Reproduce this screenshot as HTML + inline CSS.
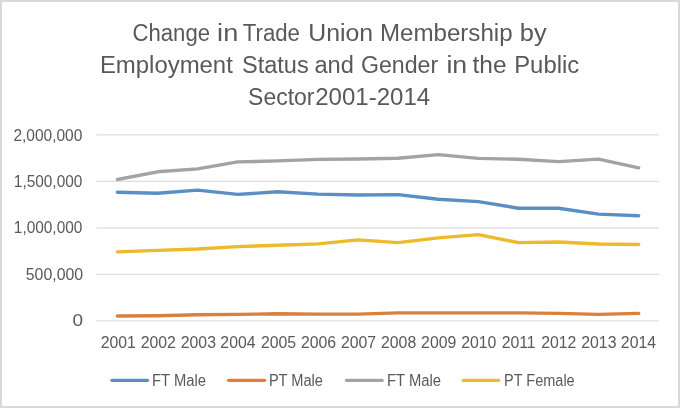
<!DOCTYPE html><html><head><meta charset="utf-8"><style>html,body{margin:0;padding:0;background:#fff;overflow:hidden;}svg{display:block;will-change:transform;}text{font-family:"Liberation Sans",sans-serif;}</style></head><body>
<svg width="680" height="408" viewBox="0 0 680 408">
<rect x="0" y="0" width="680" height="408" fill="#fff"/>
<rect x="1" y="1" width="678" height="406" fill="none" stroke="#D9D9D9" stroke-width="2"/>
<text x="132.54" y="40.5" font-size="23" fill="#595959" textLength="77.52" lengthAdjust="spacingAndGlyphs">Change</text>
<text x="217.14" y="40.5" font-size="23" fill="#595959" textLength="21.10" lengthAdjust="spacingAndGlyphs">in</text>
<text x="242.79" y="40.5" font-size="23" fill="#595959" textLength="57.16" lengthAdjust="spacingAndGlyphs">Trade</text>
<text x="308.34" y="40.5" font-size="23" fill="#595959" textLength="64.85" lengthAdjust="spacingAndGlyphs">Union</text>
<text x="379.90" y="40.5" font-size="23" fill="#595959" textLength="132.67" lengthAdjust="spacingAndGlyphs">Membership</text>
<text x="519.80" y="40.5" font-size="23" fill="#595959" textLength="26.78" lengthAdjust="spacingAndGlyphs">by</text>
<text x="99.92" y="72.6" font-size="23" fill="#595959" textLength="132.90" lengthAdjust="spacingAndGlyphs">Employment</text>
<text x="241.98" y="72.6" font-size="23" fill="#595959" textLength="66.77" lengthAdjust="spacingAndGlyphs">Status</text>
<text x="314.47" y="72.6" font-size="23" fill="#595959" textLength="39.44" lengthAdjust="spacingAndGlyphs">and</text>
<text x="360.99" y="72.6" font-size="23" fill="#595959" textLength="77.23" lengthAdjust="spacingAndGlyphs">Gender</text>
<text x="446.43" y="72.6" font-size="23" fill="#595959" textLength="20.78" lengthAdjust="spacingAndGlyphs">in</text>
<text x="472.50" y="72.6" font-size="23" fill="#595959" textLength="34.05" lengthAdjust="spacingAndGlyphs">the</text>
<text x="514.23" y="72.6" font-size="23" fill="#595959" textLength="64.95" lengthAdjust="spacingAndGlyphs">Public</text>
<text x="248.10" y="104.8" font-size="23" fill="#595959" textLength="66.38" lengthAdjust="spacingAndGlyphs">Sector</text>
<text x="315.26" y="104.8" font-size="23" fill="#595959" textLength="114.89" lengthAdjust="spacingAndGlyphs">2001-2014</text>
<line x1="96.5" y1="134.90" x2="659" y2="134.90" stroke="#DEDEDE" stroke-width="1.3"/>
<line x1="96.5" y1="181.38" x2="659" y2="181.38" stroke="#DEDEDE" stroke-width="1.3"/>
<line x1="96.5" y1="227.85" x2="659" y2="227.85" stroke="#DEDEDE" stroke-width="1.3"/>
<line x1="96.5" y1="274.33" x2="659" y2="274.33" stroke="#DEDEDE" stroke-width="1.3"/>
<line x1="96.5" y1="320.80" x2="659" y2="320.80" stroke="#DEDEDE" stroke-width="1.3"/>
<text x="13.42" y="140.50" font-size="15.8" fill="#595959" textLength="68.96" lengthAdjust="spacingAndGlyphs">2,000,000</text>
<text x="13.82" y="186.97" font-size="15.8" fill="#595959" textLength="68.55" lengthAdjust="spacingAndGlyphs">1,500,000</text>
<text x="13.82" y="233.45" font-size="15.8" fill="#595959" textLength="68.55" lengthAdjust="spacingAndGlyphs">1,000,000</text>
<text x="25.79" y="279.93" font-size="15.8" fill="#595959" textLength="57.42" lengthAdjust="spacingAndGlyphs">500,000</text>
<text x="72.40" y="326.40" font-size="15.8" fill="#595959" textLength="10.56" lengthAdjust="spacingAndGlyphs">0</text>
<text x="100.70" y="347.5" font-size="15.8" fill="#595959">2001</text>
<text x="140.75" y="347.5" font-size="15.8" fill="#595959">2002</text>
<text x="180.80" y="347.5" font-size="15.8" fill="#595959">2003</text>
<text x="220.35" y="347.5" font-size="15.8" fill="#595959">2004</text>
<text x="260.90" y="347.5" font-size="15.8" fill="#595959">2005</text>
<text x="300.95" y="347.5" font-size="15.8" fill="#595959">2006</text>
<text x="341.00" y="347.5" font-size="15.8" fill="#595959">2007</text>
<text x="381.05" y="347.5" font-size="15.8" fill="#595959">2008</text>
<text x="421.10" y="347.5" font-size="15.8" fill="#595959">2009</text>
<text x="461.15" y="347.5" font-size="15.8" fill="#595959">2010</text>
<text x="501.70" y="347.5" font-size="15.8" fill="#595959">2011</text>
<text x="541.25" y="347.5" font-size="15.8" fill="#595959">2012</text>
<text x="581.30" y="347.5" font-size="15.8" fill="#595959">2013</text>
<text x="620.85" y="347.5" font-size="15.8" fill="#595959">2014</text>
<polyline points="117.4,316.0 157.5,315.8 197.6,314.8 237.7,314.4 277.8,313.7 317.9,314.1 358.0,314.1 398.1,312.9 438.2,312.9 478.3,312.9 518.4,312.9 558.5,313.4 598.6,314.4 638.7,313.4" fill="none" stroke="#D9803F" stroke-width="3.4" stroke-linejoin="round" stroke-linecap="round"/>
<polyline points="117.4,251.9 157.5,250.4 197.6,249.0 237.7,246.6 277.8,245.2 317.9,243.9 358.0,239.9 398.1,242.6 438.2,237.9 478.3,234.6 518.4,242.6 558.5,242.0 598.6,244.0 638.7,244.5" fill="none" stroke="#EDBA2C" stroke-width="3.4" stroke-linejoin="round" stroke-linecap="round"/>
<polyline points="117.4,192.2 157.5,193.2 197.6,190.1 237.7,194.4 277.8,191.8 317.9,194.1 358.0,195.0 398.1,194.6 438.2,199.3 478.3,201.6 518.4,208.2 558.5,208.2 598.6,214.1 638.7,215.8" fill="none" stroke="#5A8FC6" stroke-width="3.4" stroke-linejoin="round" stroke-linecap="round"/>
<polyline points="117.4,179.5 157.5,171.8 197.6,168.9 237.7,161.9 277.8,160.9 317.9,159.4 358.0,159.0 398.1,158.2 438.2,154.6 478.3,158.4 518.4,159.3 558.5,161.6 598.6,159.1 638.7,167.8" fill="none" stroke="#A3A3A3" stroke-width="3.4" stroke-linejoin="round" stroke-linecap="round"/>
<line x1="111.9" y1="380.3" x2="147.5" y2="380.3" stroke="#5A8FC6" stroke-width="3.2" stroke-linecap="round"/>
<line x1="228.6" y1="380.3" x2="264.6" y2="380.3" stroke="#D9803F" stroke-width="3.2" stroke-linecap="round"/>
<line x1="346.5" y1="380.3" x2="382.2" y2="380.3" stroke="#A3A3A3" stroke-width="3.2" stroke-linecap="round"/>
<line x1="463.2" y1="380.3" x2="498.7" y2="380.3" stroke="#EDBA2C" stroke-width="3.2" stroke-linecap="round"/>
<text x="152.08" y="385.7" font-size="16" fill="#595959" textLength="53.88" lengthAdjust="spacingAndGlyphs">FT Male</text>
<text x="268.89" y="385.7" font-size="16" fill="#595959" textLength="54.07" lengthAdjust="spacingAndGlyphs">PT Male</text>
<text x="387.08" y="385.7" font-size="16" fill="#595959" textLength="53.88" lengthAdjust="spacingAndGlyphs">FT Male</text>
<text x="504.09" y="385.7" font-size="16" fill="#595959" textLength="70.57" lengthAdjust="spacingAndGlyphs">PT Female</text>
</svg></body></html>
